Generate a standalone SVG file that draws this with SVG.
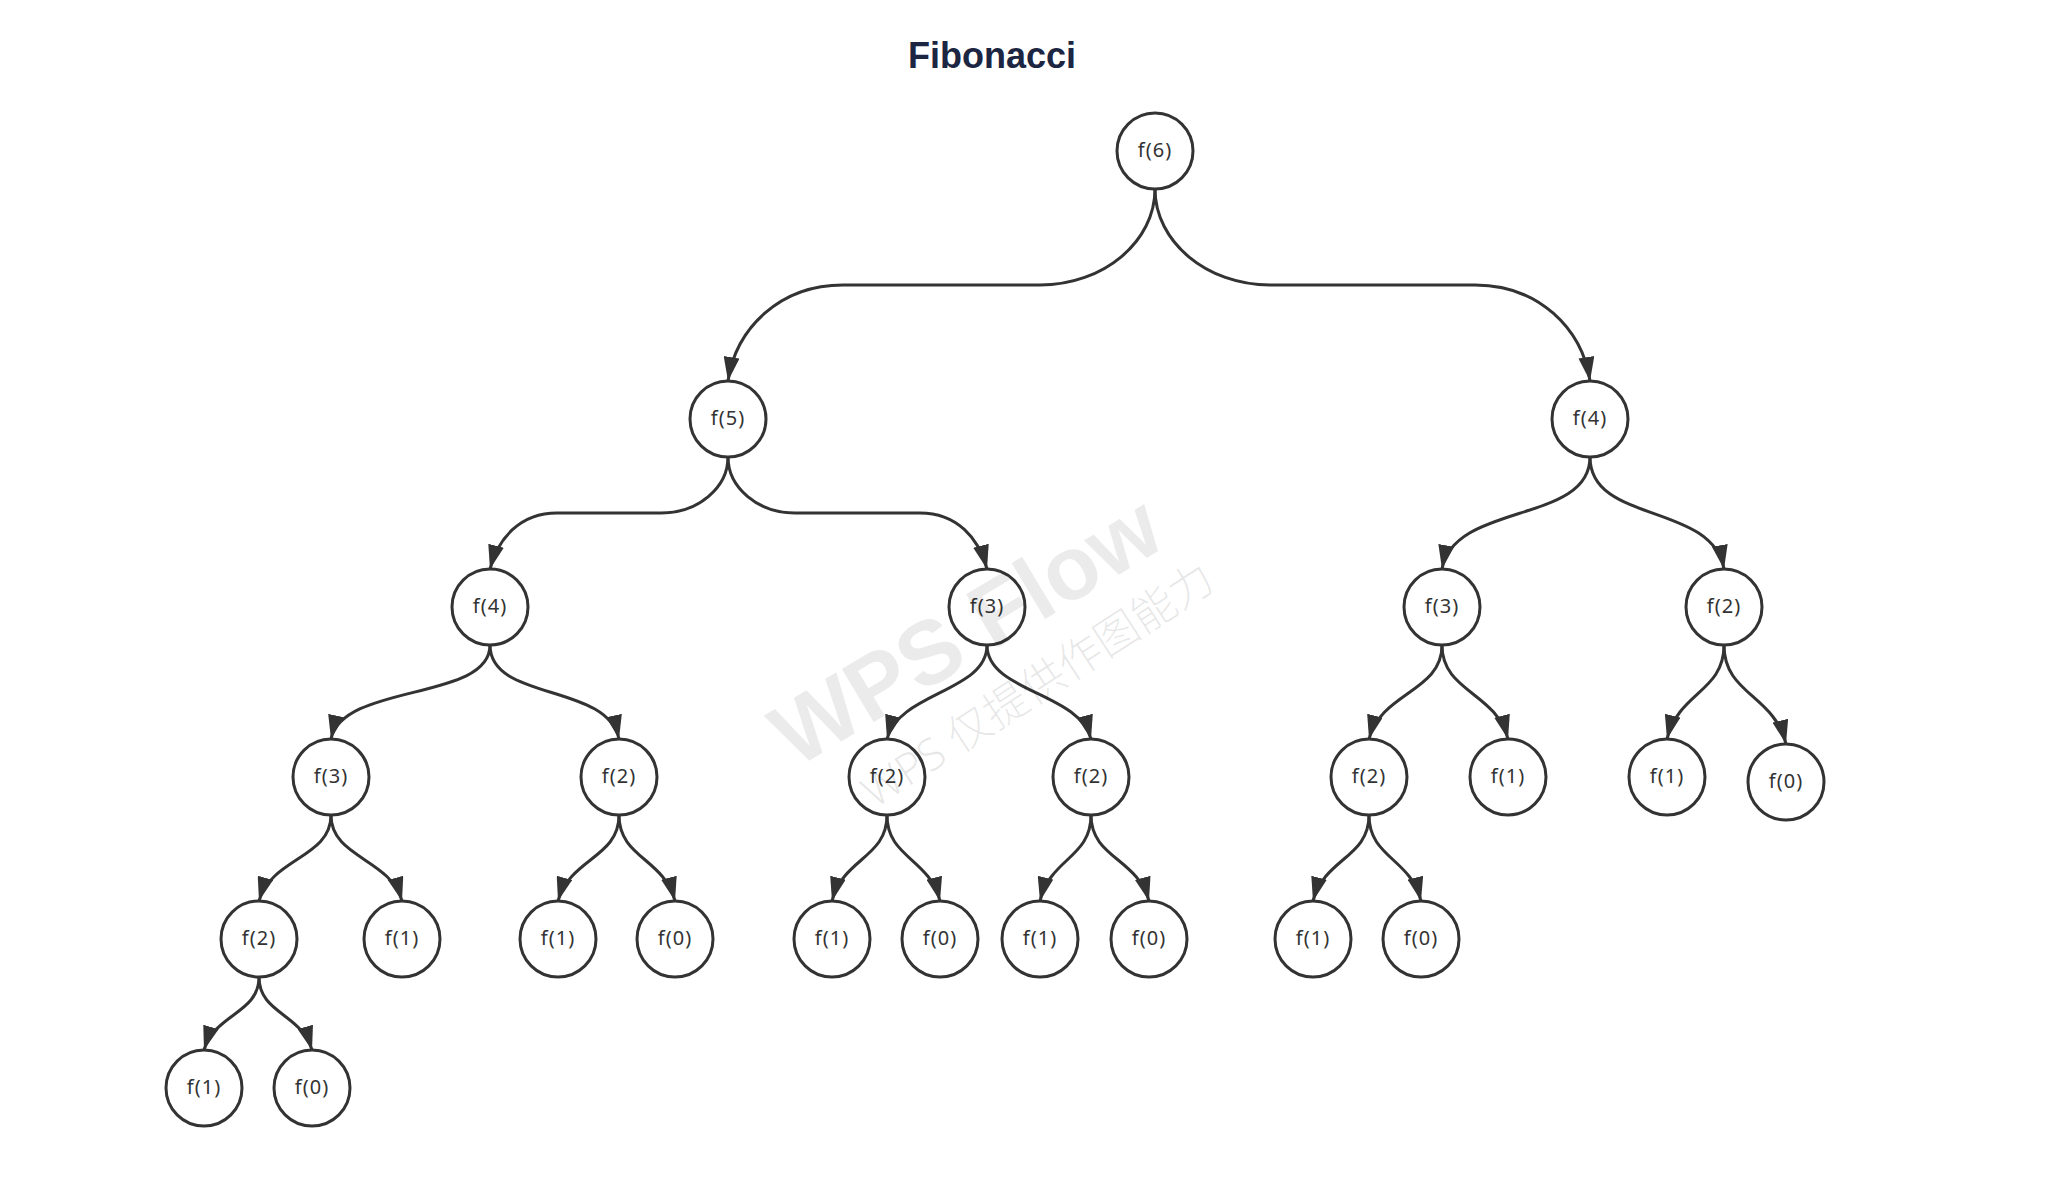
<svg xmlns="http://www.w3.org/2000/svg" width="2048" height="1200" viewBox="0 0 2048 1200">
<style>
.node circle{fill:#ffffff;stroke:#333333;stroke-width:3}
.node text{font-family:"Noto Sans","Open Sans",sans-serif;font-size:20px;fill:#333333;text-anchor:middle;letter-spacing:1px}
.edge{fill:none;stroke:#333333;stroke-width:3;marker-end:url(#arrow)}
.title{font-family:"Liberation Sans",Arial,sans-serif;font-weight:bold;font-size:36px;fill:#1c2541;text-anchor:middle}
.wm1{font-family:"Liberation Sans",Arial,sans-serif;font-weight:bold;font-size:90px;fill:#000000;fill-opacity:0.08;text-anchor:middle}
.wm2{font-family:"Noto Sans","Noto Sans CJK SC",sans-serif;font-weight:300;font-size:44px;fill:#000000;fill-opacity:0.09;text-anchor:middle}
</style>
<defs>
<marker id="arrow" markerUnits="userSpaceOnUse" markerWidth="24" markerHeight="16" viewBox="0 0 24 16" refX="24" refY="8" orient="auto">
<path d="M0,0 L24,8 L0,16 Z" fill="#333333"/>
</marker>
</defs>
<rect width="2048" height="1200" fill="#ffffff"/>
<text class="title" x="992" y="68">Fibonacci</text>
<g id="connectors">
<path class="edge" d="M1155,189 C1155,241.8 1103.3,285 1040,285 L843,285 C779.8,285 736,328.2 728,381"/>
<path class="edge" d="M1155,189 C1155,241.8 1206.8,285 1270,285 L1475,285 C1538.3,285 1582,328.2 1590,381"/>
<path class="edge" d="M728,457 C728,487.8 697.8,513 661,513 L557,513 C520.2,513 498,538.2 490,569"/>
<path class="edge" d="M728,457 C728,487.8 758.2,513 795,513 L920,513 C956.8,513 979,538.2 987,569"/>
<path class="edge" d="M1590,457 C1590,524.2 1454,501.8 1442,569"/>
<path class="edge" d="M1590,457 C1590,524.2 1712,501.8 1724,569"/>
<path class="edge" d="M490,645 C490,701.4 343,682.6 331,739"/>
<path class="edge" d="M490,645 C490,701.4 607,682.6 619,739"/>
<path class="edge" d="M987,645 C987,692 899,692 887,739"/>
<path class="edge" d="M987,645 C987,692 1079,692 1091,739"/>
<path class="edge" d="M1442,645 C1442,692 1381,692 1369,739"/>
<path class="edge" d="M1442,645 C1442,692 1496,692 1508,739"/>
<path class="edge" d="M1724,645 C1724,692 1678.4,692 1667,739"/>
<path class="edge" d="M1724,645 C1724,694.5 1774,694.5 1786,744"/>
<path class="edge" d="M331,815 C331,858 271,858 259,901"/>
<path class="edge" d="M331,815 C331,858 390,858 402,901"/>
<path class="edge" d="M619,815 C619,858 570,858 558,901"/>
<path class="edge" d="M619,815 C619,858 663.8,858 675,901"/>
<path class="edge" d="M887,815 C887,858 843,858 832,901"/>
<path class="edge" d="M887,815 C887,858 929.4,858 940,901"/>
<path class="edge" d="M1091,815 C1091,858 1050.2,858 1040,901"/>
<path class="edge" d="M1091,815 C1091,858 1137.4,858 1149,901"/>
<path class="edge" d="M1369,815 C1369,858 1324.2,858 1313,901"/>
<path class="edge" d="M1369,815 C1369,858 1410.6,858 1421,901"/>
<path class="edge" d="M259,977 C259,1013.5 215,1013.5 204,1050"/>
<path class="edge" d="M259,977 C259,1013.5 301.4,1013.5 312,1050"/>
</g>
<g id="n-f6" class="node"><circle cx="1155" cy="151" r="38"/><text x="1155" y="157">f(6)</text></g>
<g id="n-f5" class="node"><circle cx="728" cy="419" r="38"/><text x="728" y="425">f(5)</text></g>
<g id="n-f4-r" class="node"><circle cx="1590" cy="419" r="38"/><text x="1590" y="425">f(4)</text></g>
<g id="n-f4-l" class="node"><circle cx="490" cy="607" r="38"/><text x="490" y="613">f(4)</text></g>
<g id="n-f3-m" class="node"><circle cx="987" cy="607" r="38"/><text x="987" y="613">f(3)</text></g>
<g id="n-f3-r" class="node"><circle cx="1442" cy="607" r="38"/><text x="1442" y="613">f(3)</text></g>
<g id="n-f2-r" class="node"><circle cx="1724" cy="607" r="38"/><text x="1724" y="613">f(2)</text></g>
<g id="n-f3-a" class="node"><circle cx="331" cy="777" r="38"/><text x="331" y="783">f(3)</text></g>
<g id="n-f2-a" class="node"><circle cx="619" cy="777" r="38"/><text x="619" y="783">f(2)</text></g>
<g id="n-f2-b" class="node"><circle cx="887" cy="777" r="38"/><text x="887" y="783">f(2)</text></g>
<g id="n-f2-c" class="node"><circle cx="1091" cy="777" r="38"/><text x="1091" y="783">f(2)</text></g>
<g id="n-f2-d" class="node"><circle cx="1369" cy="777" r="38"/><text x="1369" y="783">f(2)</text></g>
<g id="n-f1-a" class="node"><circle cx="1508" cy="777" r="38"/><text x="1508" y="783">f(1)</text></g>
<g id="n-f1-b" class="node"><circle cx="1667" cy="777" r="38"/><text x="1667" y="783">f(1)</text></g>
<g id="n-f0-a" class="node"><circle cx="1786" cy="782" r="38"/><text x="1786" y="788">f(0)</text></g>
<g id="n-f2-e" class="node"><circle cx="259" cy="939" r="38"/><text x="259" y="945">f(2)</text></g>
<g id="n-f1-c" class="node"><circle cx="402" cy="939" r="38"/><text x="402" y="945">f(1)</text></g>
<g id="n-f1-d" class="node"><circle cx="558" cy="939" r="38"/><text x="558" y="945">f(1)</text></g>
<g id="n-f0-b" class="node"><circle cx="675" cy="939" r="38"/><text x="675" y="945">f(0)</text></g>
<g id="n-f1-e" class="node"><circle cx="832" cy="939" r="38"/><text x="832" y="945">f(1)</text></g>
<g id="n-f0-c" class="node"><circle cx="940" cy="939" r="38"/><text x="940" y="945">f(0)</text></g>
<g id="n-f1-f" class="node"><circle cx="1040" cy="939" r="38"/><text x="1040" y="945">f(1)</text></g>
<g id="n-f0-d" class="node"><circle cx="1149" cy="939" r="38"/><text x="1149" y="945">f(0)</text></g>
<g id="n-f1-g" class="node"><circle cx="1313" cy="939" r="38"/><text x="1313" y="945">f(1)</text></g>
<g id="n-f0-e" class="node"><circle cx="1421" cy="939" r="38"/><text x="1421" y="945">f(0)</text></g>
<g id="n-f1-h" class="node"><circle cx="204" cy="1088" r="38"/><text x="204" y="1094">f(1)</text></g>
<g id="n-f0-f" class="node"><circle cx="312" cy="1088" r="38"/><text x="312" y="1094">f(0)</text></g>
<g id="watermark">
<text class="wm1" transform="translate(982,657) rotate(-31)">WPS Flow</text>
<text class="wm2" transform="translate(1046,698) rotate(-33)">WPS 仅提供作图能力</text>
</g>
</svg>
